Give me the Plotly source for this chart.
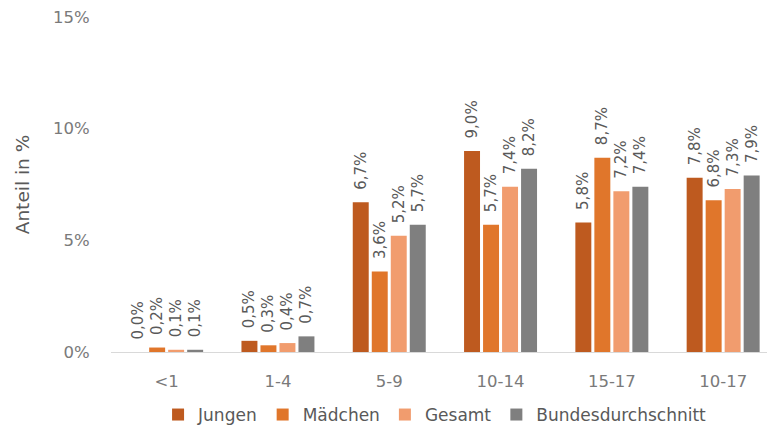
import plotly.graph_objects as go

categories = ["<1", "1-4", "5-9", "10-14", "15-17", "10-17"]
jungen = [0.0, 0.5, 6.7, 9.0, 5.8, 7.8]
maedchen = [0.2, 0.3, 3.6, 5.7, 8.7, 6.8]
gesamt = [0.1, 0.4, 5.2, 7.4, 7.2, 7.3]
bund = [0.1, 0.7, 5.7, 8.2, 7.4, 7.9]
y_ticks = [0, 5, 10, 15]
y_tick_labels = ["0%", "5%", "10%", "15%"]

series = [
    ("Jungen", jungen, "#BE5A1F"),
    ("Mädchen", maedchen, "#E0762B"),
    ("Gesamt", gesamt, "#F19C6E"),
    ("Bundesdurchschnitt", bund, "#7F7F7F"),
]

FONT = "DejaVu Sans"
LBL = "#595959"
TICK = "#7A7A7A"

fig = go.Figure()
for name, vals, col in series:
    fig.add_trace(go.Bar(
        name=name, x=categories, y=vals,
        marker=dict(color=col, line=dict(width=0)),
        text=["\u00a0\u00a0" + f"{v:.1f}%".replace(".", ",") for v in vals],
        textposition="outside", textangle=-90,
        textfont=dict(family=FONT, size=15, color=LBL),
        cliponaxis=False,
    ))

fig.update_layout(
    width=767, height=428,
    margin=dict(l=111, r=0, t=17, b=76, autoexpand=False),
    paper_bgcolor="white", plot_bgcolor="white",
    barmode="group", bargap=0.317, bargroupgap=0.16,
    font=dict(family=FONT, color=LBL, size=16),
    legend=dict(orientation="h", x=0.494, xref="paper", xanchor="center",
                y=-0.188, yanchor="middle", font=dict(family=FONT, size=17, color=LBL),
                itemwidth=30, traceorder="normal"),
    uniformtext=dict(minsize=15, mode="show"),
)
fig.update_xaxes(
    range=[-0.5, 5.394], showgrid=False, showline=True, linecolor="#D9D9D9",
    linewidth=1, ticks="", tickfont=dict(family=FONT, size=16.5, color=TICK),
    ticklabelstandoff=14, automargin=False,
)
fig.update_yaxes(
    range=[0, 15], tickvals=y_ticks, ticktext=y_tick_labels, showgrid=False,
    zeroline=False, showline=False, ticks="outside", ticklen=17, tickcolor="rgba(0,0,0,0)",
    tickfont=dict(family=FONT, size=16.5, color=TICK), automargin=False,
    title=dict(text="Anteil in %", font=dict(family=FONT, size=18.5, color=LBL), standoff=18),
)

fig.write_html("out.html", config={"displayModeBar": False},
               post_script="document.body.style.margin='0px';")
